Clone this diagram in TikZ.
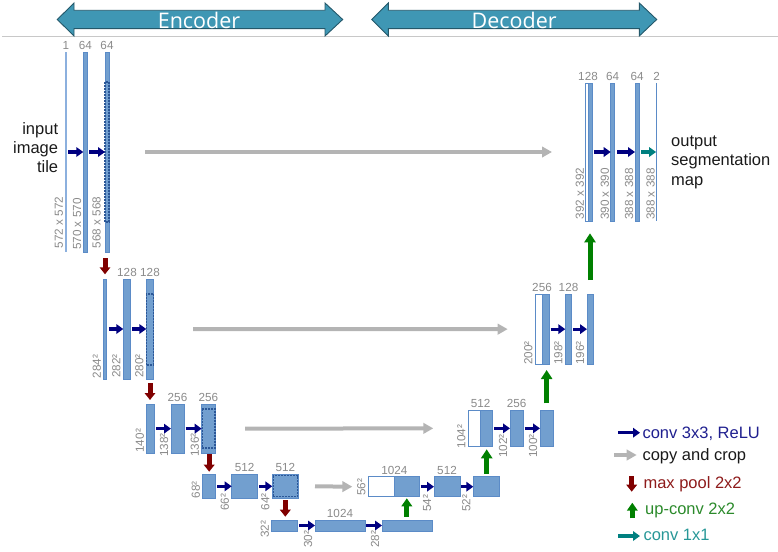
\documentclass[tikz,border=0pt]{standalone}
\usepackage{fontspec}
\setmainfont{Liberation Sans}
\newfontfamily\bandfont{Open Sans}
\usetikzlibrary{arrows.meta}

\definecolor{barfill}{HTML}{729FCF}
\definecolor{barline}{HTML}{5B8BC7}
\definecolor{thinblue}{HTML}{8CB0DE}
\definecolor{cropline}{HTML}{2B5797}
\definecolor{convc}{HTML}{000080}
\definecolor{copyc}{HTML}{B4B4B4}
\definecolor{poolc}{HTML}{800000}
\definecolor{upc}{HTML}{008000}
\definecolor{onec}{HTML}{008080}
\definecolor{numc}{HTML}{8A8A8A}
\definecolor{bandfill}{HTML}{3F97B4}
\definecolor{bandline}{HTML}{24586A}
\definecolor{rulec}{HTML}{C8C8C8}
\definecolor{inktxt}{HTML}{1A1A1A}
\definecolor{convtxt}{HTML}{1F1F8F}
\definecolor{pooltxt}{HTML}{8E1B1B}
\definecolor{uptxt}{HTML}{2B8A2B}
\definecolor{onetxt}{HTML}{279797}

\tikzset{
  fmap/.style={draw=barline, fill=barfill, line width=0.8pt, inner sep=0pt, outer sep=0pt},
  copybox/.style={draw=barline, fill=white, line width=0.8pt, inner sep=0pt, outer sep=0pt},
  linebar/.style={fill=thinblue, inner sep=0pt, outer sep=0pt},
  linebardark/.style={fill=barline, inner sep=0pt, outer sep=0pt},
  cropmark/.style={draw=cropline, line width=1.1pt, dash pattern=on 2pt off 1pt},
  chan/.style={font=\fontsize{11.7}{14}\selectfont, text=numc, inner sep=0pt, anchor=south},
  dims/.style={font=\fontsize{11.7}{14}\selectfont, text=numc, inner sep=0pt, rotate=90, anchor=south west},
  convarrow/.style={draw=convc, line width=3.3pt, -{Triangle[length=7pt,width=9.5pt]}},
  onearrow/.style={draw=onec, line width=3.3pt, -{Triangle[length=7pt,width=9.5pt]}},
  copyarrow/.style={draw=copyc, line width=4pt, -{Triangle[length=10pt,width=10.5pt]}},
  poolarrow/.style={draw=poolc, line width=5pt, -{Triangle[length=7pt,width=10.5pt]}},
  uparrow/.style={draw=upc, line width=5pt, -{Triangle[length=9pt,width=11pt]}},
  band/.style={fill=bandfill, draw=bandline, line width=0.9pt, line join=miter},
  bandtext/.style={font=\bandfont\fontsize{21.5}{24}\selectfont, text=white, anchor=base, inner sep=0pt},
  note/.style={font=\fontsize{16.5}{19.3}\selectfont, text=inktxt, inner sep=0pt},
  legend/.style={font=\fontsize{16.5}{19}\selectfont, inner sep=0pt, anchor=base west},
}

% feature map: [style]{name}{left}{right}{top}{bottom}
\newcommand\fm[6][fmap]{\node[#1,minimum width={(#4-#3)*1pt},minimum height={(#6-#5)*1pt}] (#2) at ({(#3+#4)/2},{(#5+#6)/2}) {};}
% channel count above a map: {name}{anchor point}{text}
\newcommand\chl[3]{\node[chan] (#1) at ([yshift=2.3pt]#2) {#3};}
% rotated size label left of a map: [gap]{name}{map}{vertical shift}{text}
\newcommand\dml[5][2.5pt]{\node[dims] (#2) at ([xshift=-#1,yshift=#4]#3.south west) {#5};}

\begin{document}
\begin{tikzpicture}[x=1pt,y=-1pt]
\useasboundingbox (0,0) rectangle (778,551);

% header bands
\draw[rulec, line width=0.9pt] (2,36) -- (778,36);
\path[band] (57.3,19.5) -- (74,3) -- (74,10.3) -- (325,10.3) -- (325,3) -- (342.7,19.5)
  -- (325,36) -- (325,28.6) -- (74,28.6) -- (74,36) -- cycle;
\node[bandtext] (enc) at (199,28.3) {Encoder};
\path[band] (371.7,19.5) -- (388.3,3) -- (388.3,10.3) -- (639.3,10.3) -- (639.3,3) -- (656.7,19.5)
  -- (639.3,36) -- (639.3,28.6) -- (388.3,28.6) -- (388.3,36) -- cycle;
\node[bandtext] (dec) at (514.2,28.3) {Decoder};

% contracting path
\fm[linebar]{e11}{64.9}{66.9}{52}{252}
\fm{e12}{83.3}{87.3}{52}{252}
\fm{e13}{105}{109}{52}{252}
\fm{e21}{103.7}{106.3}{279}{379}
\fm{e22}{123.3}{130.7}{279}{379}
\fm{e23}{146.3}{153.7}{279}{379}
\fm{e31}{146.7}{154}{404}{453.3}
\fm{e32}{171}{184}{404}{453.3}
\fm{e33}{201.7}{215}{404}{453.3}
\fm{e41}{202.7}{215.7}{474.3}{498.3}
\fm{e42}{231.7}{257.7}{474.3}{498.3}
\fm{e43}{272.3}{298.3}{474.3}{498.3}
\fm{b1}{271.7}{297.7}{520}{531}
\fm{b2}{315}{365}{520}{531}
\fm{b3}{382}{432.3}{520}{531}

% expansive path
\fm[copybox]{d41w}{368.3}{394.3}{476.7}{496.7}
\fm{d41}{394.3}{419.3}{476.7}{496.7}
\fm{d42}{434}{460}{476.7}{496.7}
\fm{d43}{473.3}{499}{476.7}{496.7}
\fm[copybox]{d31w}{468.3}{480.7}{410}{446.7}
\fm{d31}{480.7}{492.7}{410}{446.7}
\fm{d32}{510}{523.3}{410}{446.7}
\fm{d33}{540}{553.3}{410}{446.7}
\fm[copybox]{d21w}{535.3}{542}{294}{364.3}
\fm{d21}{542}{549}{294}{364.3}
\fm{d22}{565.3}{571.7}{294}{364.3}
\fm{d23}{587}{593.7}{294}{364.3}
\fm[copybox]{d11w}{585.7}{588}{83}{221}
\fm{d11}{588}{592}{83}{221}
\fm{d12}{610.7}{614.3}{83}{221}
\fm{d13}{635}{639}{83}{221}
\fm[linebardark]{d14}{656.1}{657.3}{83}{221}

% cropped regions
\draw[cropmark] ([yshift=-30pt]e13.north west) rectangle ([yshift=30pt]e13.south east);
\draw[cropmark] ([yshift=-15pt]e23.north west) rectangle ([yshift=14pt]e23.south east);
\draw[cropmark] ([xshift=0.6pt,yshift=-5pt]e33.north west) rectangle ([yshift=5.3pt]e33.south east);
\draw[cropmark] ([xshift=0.8pt,yshift=-1.5pt]e43.north west) rectangle ([xshift=-0.8pt,yshift=1.5pt]e43.south east);

% channel counts
\chl{c11}{e11.north}{1}
\chl{c12}{e12.north}{64}
\chl{c13}{e13.north}{64}
\chl{c22}{e22.north}{128}
\chl{c23}{e23.north}{128}
\chl{c32}{e32.north}{256}
\chl{c33}{e33.north}{256}
\chl{c42}{e42.north}{512}
\chl{c43}{e43.north}{512}
\chl{cb2}{b2.north}{1024}
\chl{cd41}{d41w.north east}{1024}
\chl{cd42}{d42.north}{512}
\chl{cd31}{d31w.north east}{512}
\chl{cd32}{d32.north}{256}
\chl{cd21}{d21w.north east}{256}
\chl{cd22}{d22.north}{128}
\chl{cd11}{d11w.north east}{128}
\chl{cd12}{d12.north}{64}
\chl{cd13}{d13.north}{64}
\chl{cd14}{d14.north}{2}

% map sizes
\dml[1.8pt]{s11}{e11}{3.5pt}{572 x 572}
\dml[1.8pt]{s12}{e12}{2pt}{570 x 570}
\dml[4pt]{s13}{e13}{3.5pt}{568 x 568}
\dml{s21}{e21}{0.7pt}{284²}
\dml{s22}{e22}{1pt}{282²}
\dml{s23}{e23}{1pt}{280²}
\dml{s31}{e31}{0.6pt}{140²}
\dml{s32}{e32}{-3.7pt}{138²}
\dml{s33}{e33}{-3.7pt}{136²}
\dml{s41}{e41}{0pt}{68²}
\dml{s42}{e42}{-12.4pt}{66²}
\dml{s43}{e43}{-12pt}{64²}
\dml{sb1}{b1}{-7pt}{32²}
\dml{sb2}{b2}{-17pt}{30²}
\dml{sb3}{b3}{-17pt}{28²}
\dml{sd41}{d41w}{0.7pt}{56²}
\dml{sd42}{d42}{-15pt}{54²}
\dml{sd43}{d43}{-15pt}{52²}
\dml{sd31}{d31w}{-1.6pt}{104²}
\dml{sd32}{d32}{-11.3pt}{102²}
\dml{sd33}{d33}{-11.3pt}{100²}
\dml{sd21}{d21w}{-0.7pt}{200²}
\dml{sd22}{d22}{-0.7pt}{198²}
\dml{sd23}{d23}{-0.7pt}{196²}
\dml[1.5pt]{sd11}{d11w}{1.7pt}{392 x 392}
\dml[1.5pt]{sd12}{d12}{1pt}{390 x 390}
\dml[1.5pt]{sd13}{d13}{1pt}{388 x 388}
\dml[1.2pt]{sd14}{d14}{1pt}{388 x 388}

% 3x3 convolutions
\draw[convarrow] ([xshift=1.3pt]e11.east) -- (e12.west);
\draw[convarrow] ([xshift=1.7pt]e12.east) -- (e13.west);
\draw[convarrow] ([xshift=2.5pt]e21.east) -- (e22.west);
\draw[convarrow] ([xshift=1.3pt]e22.east) -- (e23.west);
\draw[convarrow] ([xshift=2pt]e31.east) -- (e32.west);
\draw[convarrow] ([xshift=1.7pt]e32.east) -- (e33.west);
\draw[convarrow] ([xshift=1.6pt]e41.east) -- (e42.west);
\draw[convarrow] ([xshift=1.3pt]e42.east) -- (e43.west);
\draw[convarrow] ([xshift=1.3pt]b1.east) -- (b2.west);
\draw[convarrow] ([xshift=1.3pt]b2.east) -- (b3.west);
\draw[convarrow] ([xshift=1.3pt]d41.east) -- (d42.west);
\draw[convarrow] ([xshift=1.3pt]d42.east) -- (d43.west);
\draw[convarrow] ([xshift=1.6pt]d31.east) -- (d32.west);
\draw[convarrow] ([xshift=1.3pt]d32.east) -- (d33.west);
\draw[convarrow] ([xshift=1.7pt]d21.east) -- (d22.west);
\draw[convarrow] ([xshift=1.6pt]d22.east) -- (d23.west);
\draw[convarrow] ([xshift=2pt]d11.east) -- (d12.west);
\draw[convarrow] ([xshift=2.7pt]d12.east) -- (d13.west);
\draw[onearrow] ([xshift=2pt]d13.east) -- (d14.west);

% skip connections
\draw[copyarrow] ([xshift=36pt]e13.east) -- ([xshift=-33.7pt]d11w.west);
\draw[copyarrow] ([xshift=39.3pt]e23.east) -- ([xshift=-27.6pt]d21w.west);
\draw[copyarrow] ([xshift=30pt]e33.east) -- ([xshift=-35pt]d31w.west);
\draw[copyarrow] ([xshift=16.7pt]e43.east) -- ([xshift=-16pt]d41w.west);

% max pooling
\draw[poolarrow] ([yshift=-6pt]e21.north |- e13.south) -- ([yshift=4.7pt]e21.north);
\draw[poolarrow] ([yshift=-4pt]e23.south) -- ([yshift=4pt]e23.south |- e31.north);
\draw[poolarrow] ([yshift=-1pt]e41.north |- e33.south) -- ([yshift=2.6pt]e41.north);
\draw[poolarrow] ([yshift=-1.7pt]e43.south) -- ([yshift=3.3pt]e43.south |- b1.north);

% up-convolutions
\draw[uparrow, -{Triangle[length=8pt,width=10.5pt]}] ([yshift=3.3pt]d41.south |- b3.north) -- ([yshift=-1.6pt]d41.south);
\draw[uparrow] ([yshift=2.7pt]d31.south |- d43.north) -- ([yshift=-2.6pt]d31.south);
\draw[uparrow] ([yshift=6.7pt]d33.north) -- ([yshift=-5.7pt]d33.north |- d21.south);
\draw[uparrow] ([yshift=14pt]d11.south |- d23.north) -- ([yshift=-12.3pt]d11.south);

% input and output captions (anchored on the last line's baseline)
\node[note, align=right, anchor=base east] (inp) at (58.3,172.7) {input\\image\\tile};
\node[note, align=left, anchor=base west] (outp) at (671,185) {output\\segmentation\\map};

% legend
\coordinate (l1a) at (618.3,432.7); \coordinate (l1b) at (640,432.7);
\draw[convarrow] (l1a) -- (l1b);
\node[legend, text=convtxt] (l1t) at (642.3,438.3) {conv 3x3, ReLU};
\coordinate (l2a) at (614,455); \coordinate (l2b) at (636.7,455);
\draw[copyarrow] (l2a) -- (l2b);
\node[legend, text=inktxt] (l2t) at (642.3,460) {copy and crop};
\coordinate (l3a) at (631.7,476); \coordinate (l3b) at (631.7,491.7);
\draw[poolarrow] (l3a) -- (l3b);
\node[legend, text=pooltxt] (l3t) at (643.3,488.3) {max pool 2x2};
\coordinate (l4a) at (632.3,518.3); \coordinate (l4b) at (632.3,502.7);
\draw[uparrow, -{Triangle[length=8pt,width=10.5pt]}] (l4a) -- (l4b);
\node[legend, text=uptxt] (l4t) at (645,514.5) {up-conv 2x2};
\coordinate (l5a) at (618.3,536); \coordinate (l5b) at (640,536);
\draw[onearrow] (l5a) -- (l5b);
\node[legend, text=onetxt] (l5t) at (643.3,540.5) {conv 1x1};
\end{tikzpicture}
\end{document}
